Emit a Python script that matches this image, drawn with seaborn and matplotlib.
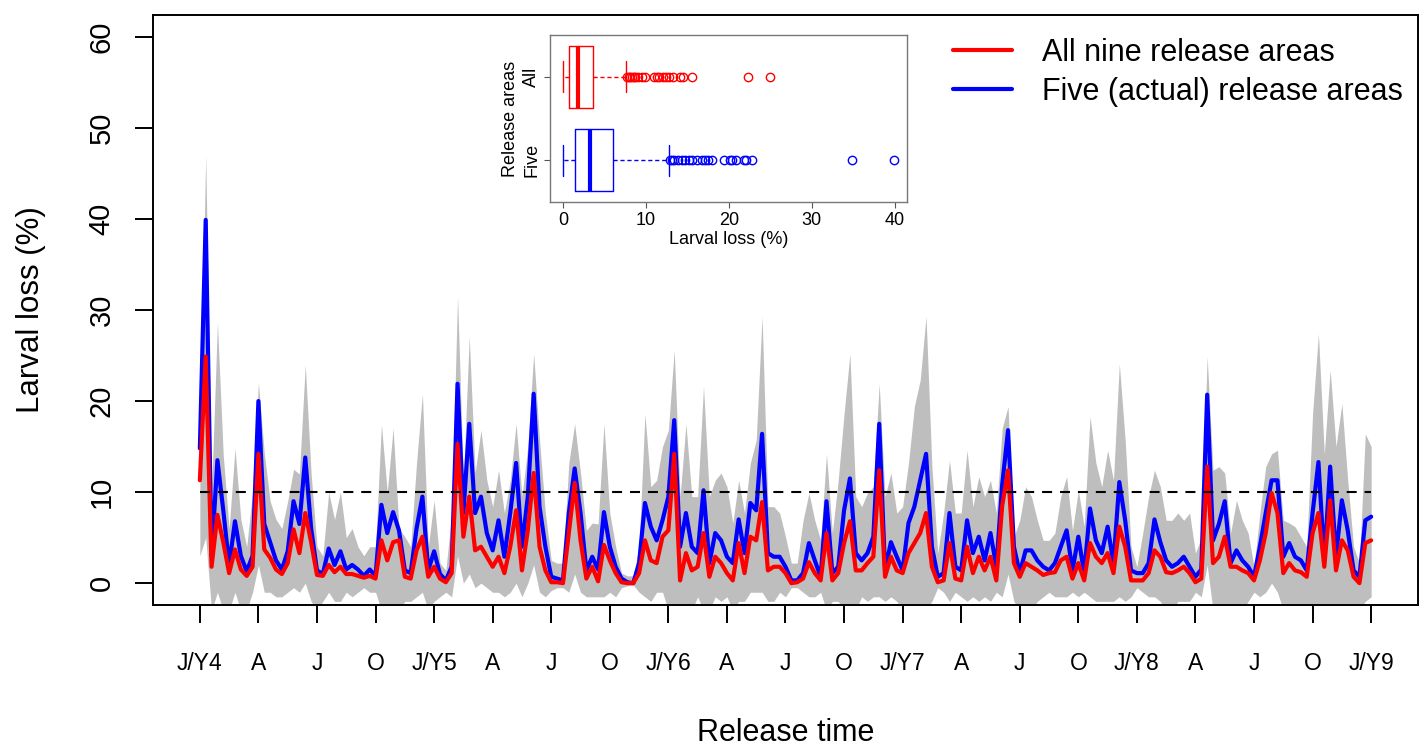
import numpy as np
import matplotlib
matplotlib.use("Agg")
import matplotlib.pyplot as plt
import seaborn as sns

# release time: years after J/Y4, one value every 1/40 year
t_step = 1 / 40

# larval loss (%) averaged over the five actual release areas
five_loss = [
    14.8, 39.9, 3.0, 13.5, 8.0, 2.0, 6.8, 3.0, 1.3, 3.0,
    20.0, 6.5, 4.5, 2.5, 1.5, 3.5, 9.0, 6.5, 13.8, 6.0,
    1.4, 1.0, 3.8, 2.0, 3.5, 1.5, 2.0, 1.5, 0.8, 1.5,
    0.8, 8.6, 5.5, 7.8, 5.8, 1.4, 1.1, 6.0, 9.5, 1.4,
    3.5, 1.0, 0.3, 1.8, 21.9, 7.7, 17.5, 7.7, 9.5, 5.5,
    3.6, 6.9, 2.9, 7.7, 13.2, 4.0, 9.5, 20.8, 8.4, 4.0,
    0.7, 0.5, 0.3, 7.7, 12.6, 7.7, 1.4, 2.9, 1.5, 7.8,
    4.0, 1.8, 0.5, 0.1, 0.0, 2.2, 8.8, 6.2, 4.7, 6.9,
    9.5, 17.9, 4.0, 7.7, 4.0, 3.3, 10.2, 2.2, 5.5, 4.7,
    2.9, 2.2, 7.0, 3.3, 8.8, 8.0, 16.4, 3.3, 2.9, 2.9,
    1.8, 0.3, 0.3, 1.1, 4.4, 2.5, 0.7, 9.0, 1.1, 1.8,
    8.0, 11.5, 3.3, 2.5, 3.3, 5.1, 17.5, 1.4, 4.5, 2.9,
    1.4, 6.6, 8.4, 11.3, 14.2, 4.0, 0.7, 1.1, 7.7, 1.8,
    1.4, 6.9, 3.3, 5.1, 2.5, 5.5, 1.8, 10.8, 16.8, 4.0,
    1.1, 3.6, 3.6, 2.5, 1.8, 1.4, 2.2, 4.0, 5.8, 1.4,
    5.1, 1.1, 8.2, 4.7, 3.3, 6.2, 2.2, 11.1, 6.9, 1.4,
    1.1, 1.1, 2.2, 7.0, 4.5, 2.5, 1.8, 2.2, 2.9, 1.8,
    0.7, 1.5, 20.7, 4.7, 6.5, 9.0, 2.2, 3.6, 2.5, 1.8,
    0.7, 4.0, 7.7, 11.3, 11.3, 2.9, 4.4, 2.9, 2.5, 1.4,
    7.7, 13.3, 2.5, 12.8, 2.9, 9.1, 5.8, 1.4, 0.7, 6.9,
    7.3,
]

# larval loss (%) averaged over all nine release areas
all_loss = [
    11.3, 24.9, 1.8, 7.5, 4.5, 1.1, 3.7, 1.5, 0.8, 1.8,
    14.2, 3.7, 2.8, 1.5, 1.0, 2.2, 5.9, 3.3, 7.7, 4.5,
    0.9, 0.8, 2.0, 1.2, 1.8, 1.0, 1.0, 0.8, 0.6, 0.8,
    0.5, 4.7, 2.5, 4.5, 4.7, 0.7, 0.5, 3.6, 5.1, 0.7,
    1.8, 0.5, 0.1, 1.1, 15.3, 5.1, 9.5, 3.6, 4.0, 2.9,
    1.8, 2.9, 1.1, 4.0, 8.0, 1.4, 5.8, 12.1, 4.0, 1.4,
    0.1, 0.1, 0.0, 5.5, 11.0, 4.7, 0.5, 1.8, 0.2, 4.2,
    2.5, 1.1, 0.1, 0.0, 0.0, 1.1, 4.7, 2.5, 2.2, 5.1,
    5.8, 14.2, 0.3, 3.3, 1.4, 1.8, 5.5, 0.7, 2.9, 2.2,
    1.1, 0.3, 4.4, 1.1, 5.1, 4.7, 8.9, 1.4, 1.8, 1.8,
    1.1, 0.0, 0.1, 0.5, 2.3, 1.1, 0.3, 5.5, 0.3, 1.1,
    4.4, 6.8, 1.4, 1.4, 2.2, 2.9, 12.4, 0.7, 2.9, 1.4,
    1.1, 3.3, 4.4, 5.5, 7.7, 1.8, 0.1, 0.3, 4.4, 0.5,
    0.3, 4.0, 1.1, 2.9, 1.4, 2.9, 0.3, 8.5, 12.4, 2.2,
    0.7, 2.2, 1.8, 1.4, 0.9, 1.1, 1.2, 2.5, 2.9, 0.5,
    2.2, 0.3, 4.4, 2.9, 2.2, 3.3, 1.1, 6.2, 4.0, 0.3,
    0.3, 0.3, 1.1, 3.6, 2.9, 1.2, 1.1, 1.4, 1.8, 1.1,
    0.1, 0.5, 12.8, 2.2, 2.9, 5.1, 1.8, 1.8, 1.4, 1.1,
    0.3, 2.5, 5.5, 9.9, 7.7, 1.1, 2.2, 1.4, 1.2, 0.7,
    5.5, 7.7, 1.8, 9.1, 1.4, 4.7, 3.6, 0.7, 0.0, 4.4,
    4.7,
]

# grey envelope over the individual release areas
band_high = [
    16, 47, 10, 28.6, 14, 6, 14.8, 7, 4, 10,
    22, 14.3, 9, 7, 6, 9, 12.5, 12, 24, 12,
    4, 3, 10, 7, 10, 5, 6, 4, 3, 4,
    4, 17.4, 10, 17, 6, 5.1, 4.0, 13.2, 20.8, 4.0,
    9.1, 2.2, 1.4, 7.7, 31.5, 11.3, 27.1, 12.1, 16.8, 11.3,
    8.4, 12.4, 7.7, 11.3, 17.5, 9.5, 15.0, 25.2, 15.7, 7.7,
    2.5, 2.2, 2.2, 13.2, 17.5, 12.1, 5.8, 6.6, 6.5, 17.5,
    7.7, 4.0, 1.1, 0.8, 0.8, 4.0, 18.6, 10.6, 11.3, 15.0,
    16.8, 25.6, 9.5, 17.5, 9.5, 9.5, 21.6, 9.5, 11.3, 12.1,
    10.6, 6.6, 11.3, 7.7, 13.2, 15.7, 29.3, 8.4, 8.4, 7.7,
    5.1, 2.2, 2.2, 6.9, 9.9, 6.9, 4.7, 14.2, 5.5, 11.3,
    18.6, 25.2, 9.5, 8.4, 9.9, 10.6, 21.9, 9.5, 12.1, 7.7,
    8.4, 13.2, 19.4, 22.3, 29.3, 12.8, 3.3, 7.7, 13.5, 7.7,
    7.7, 14.6, 8.4, 11.7, 9.5, 11.3, 7.7, 17, 19.4, 5.1,
    6.9, 10.6, 9.5, 6.9, 4.7, 4.7, 5.5, 9.5, 11.7, 5.8,
    10.2, 6.2, 18.3, 13.2, 10.6, 14.6, 11.3, 24.1, 15.7, 4.0,
    1.8, 5.5, 9.5, 12.4, 10.6, 6.9, 6.9, 7.7, 6.9, 7.7,
    3.3, 5.0, 24.9, 12.4, 12.8, 12.1, 5.5, 9.1, 6.9, 5.5,
    1.8, 7.7, 12.8, 14.2, 14.6, 6.9, 6.6, 6.2, 5.1, 4.0,
    18.6, 27.4, 14.2, 23.4, 15.0, 19.7, 11.3, 4.0, 2.2, 16.4,
    15.0,
]

band_low = [
    3, 5, -3, -1, -3, -3, -1, -3, -3, -1,
    2, -1, -1, -1.5, -1.5, -1, -0.5, -1, 0, -2,
    -3, -2, -1, -2, -2, -1, -1.5, -1, -0.5, -1,
    -1, -3, -3, -3, -3, -2, -2, -1.5, -1, -3,
    -2, -1.5, -1, -1.5, 3, 0, 1, -0.5, 0, -0.5,
    -1, -1, -1.5, -1, 0, -1.5, 0, 2, -1, -1.5,
    -0.8, -0.5, -0.5, -1, 1, -1, -1.5, -1.5, -1.5, -1.5,
    -1, -1.5, -0.5, -0.3, -0.2, -1, -1.5, -2, -1, -1,
    -3, -3, -3, -3, -3, -1.5, -3, -3, -1.5, -2,
    -1.5, -3, -2, -2, -1, -1, -1, -2, -2, -1,
    -1.5, -0.5, -0.5, -1, -1.5, -1.5, -1, -3, -2, -2,
    -3, -3, -3, -1.5, -2, -1.5, -1.5, -2, -1.5, -2,
    -3, -3, -3, -3, -3, -2, -0.5, -1, -2, -1,
    -1.5, -2, -1.5, -2, -1.5, -2, -1, -1.5, 1, -2,
    -3, -3, -3, -2, -1.5, -1, -1.5, -1.5, -1.5, -1,
    -1.5, -1, -1.5, -2, -2, -2, -2, -1.5, -2, -1.5,
    -0.5, -1, -1.5, -1.5, -2, -3, -3, -2, -2, -2,
    -1, -1.5, 2, -3, -3, -3, -3, -3, -3, -2,
    -1, -1.5, -1, 0, -1, -3, -3, -3, -3, -3,
    -3, -3, -3, -3, -3, -3, -3, -3, -3, -2,
    -1.5,
]

tick_labels = ["J/Y4", "A", "J", "O", "J/Y5", "A", "J", "O", "J/Y6", "A", "J",
               "O", "J/Y7", "A", "J", "O", "J/Y8", "A", "J", "O", "J/Y9"]
threshold = 10

# inset box summaries (whisker low, Q1, median, Q3, whisker high)
all_box = [0.0, 0.75, 1.8, 3.6, 7.6]
all_fliers = [7.7, 7.9, 8.1, 8.3, 8.5, 8.7, 9.0, 9.5, 9.9, 10.9, 11.3, 11.6,
              12.0, 12.4, 12.8, 13.2, 14.1, 14.4, 15.6, 22.3, 24.9]
five_box = [0.0, 1.4, 3.2, 6.0, 12.8]
five_fliers = [12.9, 13.1, 13.4, 13.8, 14.3, 14.7, 15.2, 15.6, 16.2, 16.7,
               17.1, 17.5, 17.9, 19.4, 20.1, 20.4, 20.9, 21.8, 22.1, 22.8,
               34.8, 39.9]

t = np.arange(len(five_loss)) * t_step

sns.set_style("ticks", {"axes.edgecolor": "black", "text.color": "black",
                        "xtick.color": "black", "ytick.color": "black",
                        "axes.labelcolor": "black"})
plt.rcParams["font.family"] = ["Liberation Sans", "DejaVu Sans"]

W, H = 1426, 749
fig = plt.figure(figsize=(W / 100, H / 100), dpi=100)
ax = fig.add_axes([153 / W, 144 / H, 1265 / W, 590 / H])

ax.fill_between(t, band_low, band_high, color="#BEBEBE", lw=0)
sns.lineplot(x=t, y=five_loss, color="blue", lw=3, ax=ax,
             label="Five (actual) release areas")
sns.lineplot(x=t, y=all_loss, color="red", lw=3, ax=ax,
             label="All nine release areas")
ax.hlines(threshold, t[0], t[-1], color="black", lw=1.5,
          linestyles=[(0, (4.8, 3.8))])

ax.set_xlim(-0.2, 5.2)
ax.set_ylim(-2.4, 62.4)
ax.set_xticks(np.arange(len(tick_labels)) * 0.25)
ax.set_xticklabels(tick_labels)
ax.set_yticks(range(0, 61, 10))
ax.set_yticklabels([str(v) for v in range(0, 61, 10)], rotation=90, va="center")
ax.tick_params(axis="both", length=13, width=1.4)
ax.tick_params(axis="x", pad=21, labelsize=16.5)
ax.tick_params(axis="y", pad=14, labelsize=21)
for s in ax.spines.values():
    s.set_linewidth(1.4)

ax.set_xlabel("Release time", fontsize=22)
ax.set_ylabel("Larval loss (%)", fontsize=22.5)
ax.xaxis.label.set_va("center")
ax.yaxis.label.set_va("center")
ax.xaxis.set_label_coords(0.5, (605 - 733) / 590)
ax.yaxis.set_label_coords((31 - 153) / 1265, 0.5)

handles, labels = ax.get_legend_handles_labels()
ax.legend(handles[::-1], labels[::-1], loc="upper left",
          bbox_to_anchor=(953 / W, 1 - 38 / H), bbox_transform=fig.transFigure,
          frameon=False, fontsize=22, handlelength=1.93, handletextpad=0.98,
          labelspacing=0.3, borderpad=0, borderaxespad=0)

# inset: distribution of the two series
axin = fig.add_axes([550 / W, 1 - 202 / H, 357 / W, 167 / H])
axin.set_facecolor("white")
keys = ["whislo", "q1", "med", "q3", "whishi"]
for pos, box, fl, col in [(1, all_box, all_fliers, "red"),
                          (0, five_box, five_fliers, "blue")]:
    st = dict(zip(keys, box))
    st["fliers"] = np.array(fl)
    axin.bxp([st], positions=[pos], widths=0.74, capwidths=0.37,
             orientation="horizontal", manage_ticks=False,
             boxprops={"color": col, "lw": 1},
             whiskerprops={"color": col, "lw": 1, "linestyle": (0, (3, 2))},
             capprops={"color": col, "lw": 1},
             medianprops={"color": col, "lw": 3},
             flierprops={"marker": "o", "markersize": 6, "markeredgecolor": col,
                         "markerfacecolor": "none", "markeredgewidth": 1})
axin.set_xlim(-1.6, 41.5)
axin.set_ylim(-0.5, 1.5)
axin.set_xticks([0, 10, 20, 30, 40])
axin.set_yticks([1, 0])
axin.set_yticklabels(["All", "Five"], rotation=90, va="center")
axin.tick_params(axis="both", length=4, width=0.8, labelsize=13, pad=3,
                 color="#555555")
axin.set_xlabel("Larval loss (%)", fontsize=13, labelpad=2)
axin.set_ylabel("Release areas", fontsize=13, labelpad=3)
for s in axin.spines.values():
    s.set_linewidth(1.0)
    s.set_color("#777777")

fig.savefig("out.png", dpi=100)
